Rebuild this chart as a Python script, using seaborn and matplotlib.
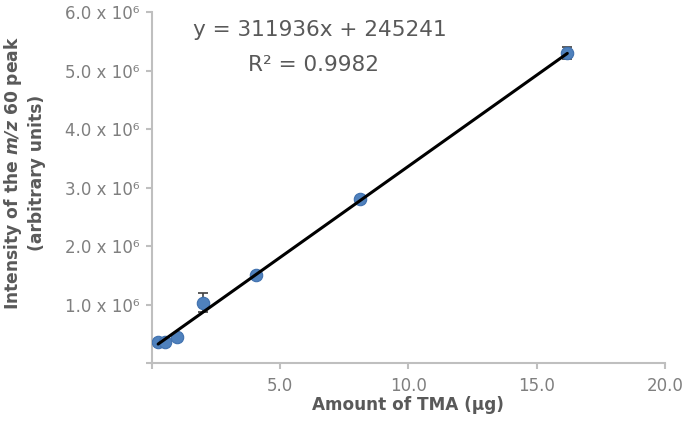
import numpy as np
import pandas as pd
import seaborn as sns
import matplotlib
matplotlib.use("Agg")
import matplotlib.pyplot as plt

# calibration points
tma_ug = [0.25, 0.5, 1.0, 2.0, 4.05, 8.1, 16.2]
intensity = [0.35e6, 0.36e6, 0.45e6, 1.03e6, 1.51e6, 2.80e6, 5.31e6]
intensity_err = [0.01e6, 0.01e6, 0.02e6, 0.16e6, 0.03e6, 0.04e6, 0.10e6]

# linear trendline
slope = 311936
intercept = 245241
r_squared = 0.9982

x_ticks = [0, 5, 10, 15, 20]
x_tick_labels = ["", "5.0", "10.0", "15.0", "20.0"]
y_ticks = [0, 1e6, 2e6, 3e6, 4e6, 5e6, 6e6]
y_tick_labels = ["", "1.0 x 10\u2076", "2.0 x 10\u2076", "3.0 x 10\u2076",
                 "4.0 x 10\u2076", "5.0 x 10\u2076", "6.0 x 10\u2076"]

sns.set_style("ticks")
plt.rcParams['font.family'] = ['DejaVu Sans']
plt.rcParams['mathtext.fontset'] = 'custom'
plt.rcParams['mathtext.rm'] = 'DejaVu Sans:bold:italic'
plt.rcParams['mathtext.it'] = 'DejaVu Sans:bold:italic'

axis_grey = "#BFBFBF"
tick_text = "#7F7F7F"
label_text = "#595959"

df = pd.DataFrame({"tma": tma_ug, "intensity": intensity, "err": intensity_err})
fit = pd.DataFrame({"tma": [min(tma_ug), max(tma_ug)]})
fit["intensity"] = slope * fit["tma"] + intercept

fig = plt.figure(figsize=(6.85, 4.28), dpi=100)
ax = fig.add_axes([0.2215, 0.152, 0.749, 0.819])

ax.errorbar(df["tma"], df["intensity"], yerr=df["err"], fmt="none",
            ecolor="#404040", elinewidth=1.2, capsize=3.5, capthick=1.2, zorder=2)
sns.scatterplot(data=df, x="tma", y="intensity", s=80, color="#4F81BD",
                edgecolor="#3F70AE", linewidth=0.8, zorder=3, ax=ax)
sns.lineplot(data=fit, x="tma", y="intensity", color="black", lw=2.2,
             zorder=4, ax=ax)

ax.set_xlim(0, 20)
ax.set_ylim(0, 6e6)
ax.set_xticks(x_ticks, x_tick_labels)
ax.set_yticks(y_ticks, y_tick_labels)

sns.despine(ax=ax)
for s in ["left", "bottom"]:
    ax.spines[s].set_color(axis_grey)
    ax.spines[s].set_linewidth(1.5)
ax.tick_params(axis="both", colors=axis_grey, labelcolor=tick_text,
               length=4, width=1.5, labelsize=12, direction="out")
ax.tick_params(axis="x", pad=6)
ax.tick_params(axis="y", pad=5)

ax.set_xlabel("Amount of TMA (\u00b5g)", fontsize=12.2, fontweight="bold",
              color=label_text)
ax.set_ylabel("Intensity of the $m/z$ 60 peak\n(arbitrary units)",
              fontsize=12.3, fontweight="bold", color=label_text,
              linespacing=1.25)
ax.xaxis.set_label_coords(0.5, -0.095)
ax.yaxis.set_label_coords(-0.207, 0.542)

ax.text(6.56, 5.70e6, f"y = {slope}x + {intercept}", ha="center", va="center",
        fontsize=15.6, color=label_text)
ax.text(6.29, 5.10e6, f"R\u00b2 = {r_squared}", ha="center", va="center",
        fontsize=15.6, color=label_text)

fig.savefig("out.png", dpi=100)
